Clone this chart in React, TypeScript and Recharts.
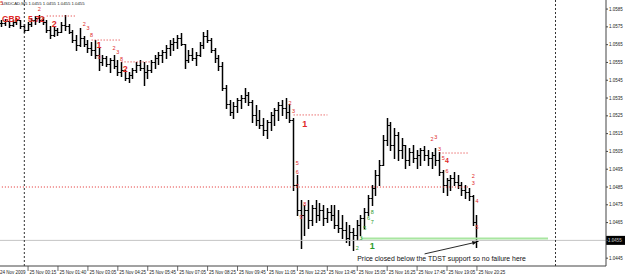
import { Bar, ComposedChart, ReferenceDot, ReferenceLine, XAxis, YAxis } from "recharts";

const RED = "#e02828";
const GREEN = "#2a9a2a";
const FONT = "'Liberation Sans', Arial, sans-serif";

// USDCAD M5, 24-25 Nov 2009, one entry per bar
const open = [
  1.05772, 1.05772, 1.05783, 1.05761, 1.05777, 1.05789, 1.05755, 1.05733, 1.05766, 1.05789,
  1.058, 1.05789, 1.05777, 1.05733, 1.05704, 1.05733, 1.05721, 1.05761, 1.05755, 1.05721,
  1.05676, 1.05648, 1.05688, 1.05654, 1.05631, 1.0562, 1.05592, 1.05553, 1.05575, 1.05541,
  1.05564, 1.05529, 1.05497, 1.05508, 1.05463, 1.0548, 1.05508, 1.05536, 1.05519, 1.05497,
  1.05508, 1.05553, 1.05575, 1.05592, 1.05609, 1.05631, 1.05654, 1.05665, 1.05688, 1.05654,
  1.05564, 1.05592, 1.05575, 1.05592, 1.05648, 1.05699, 1.05676, 1.0562, 1.05575, 1.05529,
  1.05407, 1.05317, 1.05272, 1.05306, 1.05339, 1.0535, 1.05367, 1.05328, 1.05255, 1.05227,
  1.05199, 1.05171, 1.05216, 1.05255, 1.05283, 1.05311, 1.05294, 1.05272, 1.05227, 1.04862,
  1.04721, 1.04693, 1.04721, 1.04665, 1.04733, 1.04693, 1.04721, 1.04676, 1.0471, 1.04693,
  1.04637, 1.0462, 1.04609, 1.04564, 1.04598, 1.04581, 1.04637, 1.04676, 1.0471, 1.04789,
  1.04845, 1.04918, 1.04974, 1.05115, 1.05199, 1.05086, 1.05143, 1.05058, 1.05086, 1.05002,
  1.05047, 1.05013, 1.0503, 1.05058, 1.0503, 1.05013, 1.0503, 1.05002, 1.04935, 1.04862,
  1.0489, 1.04901, 1.04879, 1.04862, 1.04834, 1.04822, 1.048, 1.04654,
];
const high = [
  1.05789, 1.05794, 1.05783, 1.05789, 1.058, 1.05789, 1.05766, 1.05777, 1.058, 1.05811,
  1.05817, 1.05805, 1.05789, 1.05755, 1.05749, 1.05744, 1.05777, 1.05817, 1.05766, 1.05733,
  1.05704, 1.05744, 1.05699, 1.05676, 1.05665, 1.05676, 1.05631, 1.05592, 1.05586, 1.05575,
  1.05592, 1.05564, 1.05553, 1.05508, 1.05497, 1.05519, 1.05553, 1.05564, 1.05553, 1.05536,
  1.05564, 1.05592, 1.05609, 1.0562, 1.05648, 1.05676, 1.05688, 1.05704, 1.05716, 1.05654,
  1.0562, 1.05631, 1.05609, 1.05665, 1.05721, 1.05733, 1.05688, 1.05631, 1.05592, 1.05553,
  1.05424, 1.05339, 1.05328, 1.0535, 1.05367, 1.05407, 1.05384, 1.05339, 1.05311, 1.05283,
  1.05238, 1.05227, 1.05272, 1.05294, 1.05328, 1.05339, 1.0535, 1.05317, 1.05238, 1.04918,
  1.04777, 1.04749, 1.04777, 1.04749, 1.04777, 1.0476, 1.04749, 1.04733, 1.04749, 1.04749,
  1.04721, 1.04693, 1.04654, 1.04637, 1.0462, 1.04665, 1.04693, 1.04733, 1.04806, 1.04862,
  1.04946, 1.05002, 1.05143, 1.05238, 1.05216, 1.05182, 1.05159, 1.05126, 1.05086, 1.0507,
  1.05086, 1.05058, 1.0507, 1.05081, 1.05058, 1.05047, 1.0507, 1.05047, 1.04946, 1.04901,
  1.04918, 1.04935, 1.04918, 1.04879, 1.04862, 1.04845, 1.04806, 1.04693,
];
const low = [
  1.05755, 1.05761, 1.05749, 1.05755, 1.05766, 1.05744, 1.05721, 1.05733, 1.05755, 1.05766,
  1.05777, 1.05766, 1.05721, 1.05688, 1.05699, 1.05704, 1.05721, 1.05733, 1.05716, 1.05665,
  1.0562, 1.05643, 1.05643, 1.05609, 1.05592, 1.05575, 1.05508, 1.05536, 1.05529, 1.05497,
  1.05519, 1.0548, 1.05474, 1.05452, 1.0544, 1.05463, 1.05497, 1.05508, 1.05424, 1.05463,
  1.05497, 1.05519, 1.05541, 1.05553, 1.05575, 1.05592, 1.0562, 1.05631, 1.05648, 1.05519,
  1.05553, 1.05564, 1.05536, 1.05586, 1.05631, 1.05665, 1.05609, 1.05553, 1.05508, 1.05395,
  1.05294, 1.05255, 1.05238, 1.05272, 1.05294, 1.05328, 1.05311, 1.05216, 1.05199, 1.05182,
  1.05143, 1.05126, 1.05171, 1.05199, 1.05227, 1.05255, 1.05238, 1.05216, 1.04834, 1.04693,
  1.04508, 1.04581, 1.0462, 1.04637, 1.04654, 1.04665, 1.04637, 1.04654, 1.04665, 1.0462,
  1.04598, 1.04564, 1.04541, 1.04525, 1.04497, 1.04553, 1.04581, 1.0462, 1.04693, 1.04749,
  1.04806, 1.04862, 1.04974, 1.05086, 1.05058, 1.05013, 1.05002, 1.05013, 1.04957, 1.04974,
  1.04991, 1.04957, 1.04974, 1.05002, 1.04974, 1.04957, 1.04974, 1.04918, 1.04822, 1.04806,
  1.04834, 1.04862, 1.04845, 1.04806, 1.04789, 1.04777, 1.04637, 1.04513,
];
const close = [
  1.05772, 1.05783, 1.05761, 1.05777, 1.05789, 1.05755, 1.05733, 1.05766, 1.05789, 1.058,
  1.05789, 1.05777, 1.05733, 1.05704, 1.05733, 1.05721, 1.05761, 1.05755, 1.05721, 1.05676,
  1.05648, 1.05688, 1.05654, 1.05631, 1.0562, 1.05592, 1.05553, 1.05575, 1.05541, 1.05564,
  1.05529, 1.05497, 1.05508, 1.05463, 1.0548, 1.05508, 1.05536, 1.05519, 1.05497, 1.05508,
  1.05553, 1.05575, 1.05592, 1.05609, 1.05631, 1.05654, 1.05665, 1.05688, 1.05654, 1.05564,
  1.05592, 1.05575, 1.05592, 1.05648, 1.05699, 1.05676, 1.0562, 1.05575, 1.05529, 1.05407,
  1.05317, 1.05272, 1.05306, 1.05339, 1.0535, 1.05367, 1.05328, 1.05255, 1.05227, 1.05199,
  1.05171, 1.05216, 1.05255, 1.05283, 1.05311, 1.05294, 1.05272, 1.05227, 1.04862, 1.04721,
  1.04693, 1.04721, 1.04665, 1.04733, 1.04693, 1.04721, 1.04676, 1.0471, 1.04693, 1.04637,
  1.0462, 1.04609, 1.04564, 1.04598, 1.04581, 1.04637, 1.04676, 1.0471, 1.04789, 1.04845,
  1.04918, 1.04974, 1.05115, 1.05199, 1.05086, 1.05143, 1.05058, 1.05086, 1.05002, 1.05047,
  1.05013, 1.0503, 1.05058, 1.0503, 1.05013, 1.0503, 1.05002, 1.04935, 1.04862, 1.0489,
  1.04901, 1.04879, 1.04862, 1.04834, 1.04822, 1.048, 1.04654, 1.04547,
];

const timeLabels = [
  "24 Nov 2009", "25 Nov 00:15", "25 Nov 01:40", "25 Nov 03:05", "25 Nov 04:25", "25 Nov 05:45",
  "25 Nov 07:05", "25 Nov 08:25", "25 Nov 09:45", "25 Nov 11:05", "25 Nov 12:25", "25 Nov 13:45",
  "25 Nov 15:05", "25 Nov 16:25", "25 Nov 17:45", "25 Nov 19:05", "25 Nov 20:25",
];
const timeTickIdx = [0, 7, 15, 23, 31, 39, 47, 55, 63, 71, 79, 87, 95, 103, 111, 119, 127];
const priceTicks = [
  1.0445, 1.0455, 1.0465, 1.0475, 1.0485, 1.0495, 1.0505, 1.0515, 1.0525, 1.0535, 1.0545, 1.0555,
  1.0565, 1.0575, 1.0585,
];
const lastPrice = 1.0455;

// TDST levels (bar index range + price)
const tdstRed = [
  { from: 12, to: 20, p: 1.05811 },
  { from: 24, to: 32, p: 1.05676 },
  { from: 32, to: 40, p: 1.05553 },
  { from: 78, to: 87, p: 1.05255 },
  { from: 117, to: 125, p: 1.05041 },
  { from: 0, to: 125, p: 1.0485 },
];
const tdstGreen = { from: 96, to: 146, p: 1.04561 };
const daySeparators = [6, 148];

// TD sequential counts: bar index, price, text
const countsRed = [
  { i: 0, p: 1.05873, t: "5" }, { i: 10, p: 1.05839, t: "2" }, { i: 22, p: 1.05755, t: "2" },
  { i: 23, p: 1.05733, t: "3" }, { i: 24, p: 1.05693, t: "8" }, { i: 26, p: 1.0557, t: "9" },
  { i: 30, p: 1.0562, t: "2" }, { i: 31, p: 1.05598, t: "3" }, { i: 32, p: 1.05558, t: "8" },
  { i: 77, p: 1.05311, t: "2" }, { i: 78, p: 1.05266, t: "3" }, { i: 79, p: 1.04974, t: "5" },
  { i: 79, p: 1.04924, t: "6" }, { i: 79, p: 1.04845, t: "7" }, { i: 81, p: 1.04744, t: "8" },
  { i: 80, p: 1.04671, t: "9" }, { i: 115, p: 1.05109, t: "2" }, { i: 116, p: 1.0512, t: "3" },
  { i: 117, p: 1.05053, t: "3" }, { i: 118, p: 1.05002, t: "5" }, { i: 119, p: 1.04929, t: "6" },
  { i: 126, p: 1.04901, t: "2" }, { i: 126, p: 1.04862, t: "3" }, { i: 127, p: 1.0476, t: "4" },
  { i: 127, p: 1.04614, t: "5" },
];
const countsGreen = [
  { i: 99, p: 1.04699, t: "8" }, { i: 98, p: 1.04665, t: "6" }, { i: 99, p: 1.04643, t: "7" },
  { i: 97, p: 1.04609, t: "5" }, { i: 96, p: 1.04553, t: "3" }, { i: 95, p: 1.04497, t: "2" },
];
const setupMarks = [
  { i: 14, p: 1.05749, t: "2", color: RED, size: 9 },
  { i: 26, p: 1.05631, t: "1", color: RED, size: 9 },
  { i: 33, p: 1.05497, t: "2", color: RED, size: 9 },
  { i: 81, p: 1.05187, t: "1", color: RED, size: 9 },
  { i: 119, p: 1.04985, t: "4", color: RED, size: 7 },
  { i: 99, p: 1.04502, t: "1", color: GREEN, size: 9 },
];
const note = { i: 95, p: 1.04435, t: "Price closed below the TDST support so no failure here" };
const arrow = { from: { i: 113, p: 1.04474 }, to: { i: 127, p: 1.04541 } };

const SLOTS = 162;
const rows = Array.from({ length: SLOTS }, (_, i) =>
  i < close.length
    ? { i, o: open[i], h: high[i], l: low[i], c: close[i], range: [low[i], high[i]] }
    : { i, range: null }
);

function OhlcShape(props: any) {
  const { x, y, width, height, payload } = props;
  if (!payload || payload.h == null || !isFinite(y)) return null;
  const top = Math.min(y, y + height);
  const bot = Math.max(y, y + height);
  const span = payload.h - payload.l || 1;
  const at = (v: number) => Math.round(top + ((payload.h - v) / span) * (bot - top)) + 0.5;
  const cx = Math.floor(x + width / 2) + 0.5;
  return (
    <g stroke="#000">
      <line x1={cx} x2={cx} y1={Math.round(top)} y2={Math.round(bot) + 1} strokeWidth={1.5} />
      <line x1={cx - 2} x2={cx} y1={at(payload.o)} y2={at(payload.o)} strokeWidth={1} />
      <line x1={cx} x2={cx + 2} y1={at(payload.c)} y2={at(payload.c)} strokeWidth={1} />
    </g>
  );
}

function TimeTick(props: any) {
  const { x, y, payload } = props;
  const k = timeTickIdx.indexOf(payload.value);
  if (k < 0) return null;
  return (
    <g>
      {k > 0 && <line x1={x} x2={x} y1={y} y2={y + 5} stroke="#444" strokeWidth={0.8} />}
      <text x={k === 0 ? x - 2 : x + 1.5} y={y + 7.5} fontSize={4.5} fontFamily={FONT} fill="#222">
        {timeLabels[k]}
      </text>
    </g>
  );
}

const textAt = (t: string, color: string, size: number, bold = false, anchor = "middle") => (p: any) => (
  <text
    x={p.cx}
    y={p.cy}
    fontSize={size}
    fontWeight={bold ? "bold" : "normal"}
    fontFamily={FONT}
    fill={color}
    textAnchor={anchor}
  >
    {t}
  </text>
);

function ArrowLine(p: any) {
  const { x1, y1, x2, y2 } = p;
  const ang = Math.atan2(y2 - y1, x2 - x1);
  const L = 5;
  const a1 = ang + Math.PI - 0.4;
  const a2 = ang + Math.PI + 0.4;
  return (
    <g>
      <line x1={x1} y1={y1} x2={x2} y2={y2} stroke="#111" strokeWidth={0.9} />
      <polygon
        points={`${x2},${y2} ${x2 + L * Math.cos(a1)},${y2 + L * Math.sin(a1)} ${x2 + L * Math.cos(a2)},${y2 + L * Math.sin(a2)}`}
        fill="#111"
      />
    </g>
  );
}

function PriceBox(props: any) {
  const { viewBox } = props;
  if (!viewBox) return null;
  const x = viewBox.x + viewBox.width;
  const y = viewBox.y;
  return (
    <g>
      <rect x={x} y={y - 4.5} width={19} height={9} fill="#000" />
      <text x={x + 2} y={y + 1.6} fontSize={4.5} fontFamily={FONT} fill="#fff">
        {lastPrice.toFixed(4)}
      </text>
    </g>
  );
}

export default function App() {
  return (
    <div style={{ position: "absolute", left: 0, top: 0, width: 625, height: 276, background: "#fff" }}>
      <ComposedChart width={625} height={276} data={rows} margin={{ top: 0, right: 0, left: 0, bottom: 0 }}>
        <XAxis
          dataKey="i"
          type="category"
          ticks={timeTickIdx}
          interval={0}
          height={10}
          tickLine={false}
          tickSize={0}
          tickMargin={0}
          tick={<TimeTick />}
          axisLine={{ stroke: "#444" }}
        />
        <YAxis
          orientation="right"
          type="number"
          domain={[1.04406, 1.05901]}
          allowDataOverflow
          ticks={priceTicks}
          width={19}
          tickSize={2}
          tickMargin={1}
          tickFormatter={(v: number) => v.toFixed(4)}
          tick={{ fontSize: 4.5, fill: "#222", fontFamily: FONT }}
          axisLine={{ stroke: "#444" }}
          tickLine={{ stroke: "#444" }}
        />
        <ReferenceLine y={lastPrice} stroke="#c4c4c4" strokeWidth={1} label={<PriceBox />} />
        {daySeparators.map((i) => (
          <ReferenceLine key={`d${i}`} x={i} stroke="#333" strokeWidth={1} strokeDasharray="2 2" />
        ))}
        <ReferenceLine
          segment={[
            { x: tdstGreen.from, y: tdstGreen.p },
            { x: tdstGreen.to, y: tdstGreen.p },
          ]}
          stroke="#a8e6a0"
          strokeWidth={2}
        />
        {tdstRed.map((s, k) => (
          <ReferenceLine
            key={`r${k}`}
            segment={[
              { x: s.from, y: s.p },
              { x: s.to, y: s.p },
            ]}
            stroke={RED}
            strokeWidth={1}
            strokeDasharray="1 2"
          />
        ))}
        <Bar dataKey="range" shape={<OhlcShape />} isAnimationActive={false} />
        {countsRed.map((a, k) => (
          <ReferenceDot key={`cr${k}`} x={a.i} y={a.p} r={0} shape={textAt(a.t, RED, 5.5)} />
        ))}
        {countsGreen.map((a, k) => (
          <ReferenceDot key={`cg${k}`} x={a.i} y={a.p} r={0} shape={textAt(a.t, GREEN, 5.5)} />
        ))}
        {setupMarks.map((a, k) => (
          <ReferenceDot key={`s${k}`} x={a.i} y={a.p} r={0} shape={textAt(a.t, a.color, a.size, true)} />
        ))}
        <ReferenceLine
          segment={[
            { x: arrow.from.i, y: arrow.from.p },
            { x: arrow.to.i, y: arrow.to.p },
          ]}
          shape={(p: any) => <ArrowLine {...p} />}
        />
        <ReferenceDot x={note.i} y={note.p} r={0} shape={textAt(note.t, "#111", 6.9, false, "start")} />
      </ComposedChart>
      <svg width={625} height={276} style={{ position: "absolute", left: 0, top: 0, pointerEvents: "none" }}>
        <text x={2} y={5} fontSize={4.3} fontFamily={FONT} fill="#222">
          USDCAD,M5 1.0455 1.0455 1.0455 1.0455
        </text>
        <text x={2} y={22} fontSize={8.5} fontWeight="bold" fontFamily={FONT} fill={RED}>
          GBP
        </text>
        <text x={28} y={22} fontSize={8.5} fontWeight="bold" fontFamily={FONT} fill={RED}>
          5.72
        </text>
      </svg>
    </div>
  );
}
